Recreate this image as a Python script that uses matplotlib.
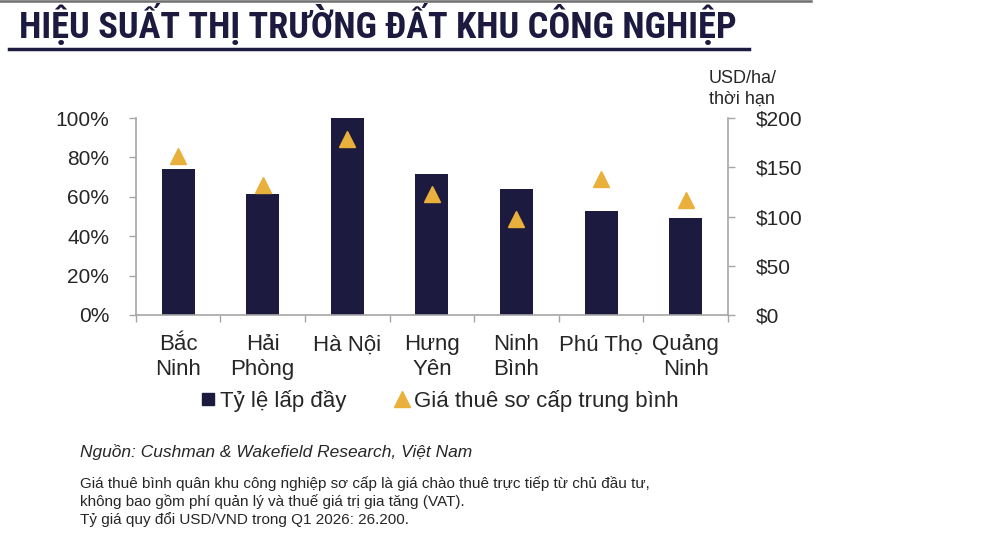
import matplotlib
matplotlib.use("Agg")
import matplotlib.pyplot as plt
from matplotlib.lines import Line2D
from matplotlib import font_manager as fm
import numpy as np

categories = ["Bắc\nNinh", "Hải\nPhòng", "Hà Nội", "Hưng\nYên", "Ninh\nBình", "Phú Thọ", "Quảng\nNinh"]
occupancy = [74.2, 61.2, 100.0, 71.5, 63.9, 52.9, 49.2]        # %
rent = [161, 132, 179, 123, 97, 138, 117]                       # USD/ha/term
left_ticks = [0, 20, 40, 60, 80, 100]
left_ticklabels = ["0%", "20%", "40%", "60%", "80%", "100%"]
right_ticks = [0, 50, 100, 150, 200]
right_ticklabels = ["$0", "$50", "$100", "$150", "$200"]

title = "HIỆU SUẤT THỊ TRƯỜNG ĐẤT KHU CÔNG NGHIỆP"
legend_labels = ["Tỷ lệ lấp đầy", "Giá thuê sơ cấp trung bình"]
unit_label = "USD/ha/\nthời hạn"
source = "Nguồn: Cushman & Wakefield Research, Việt Nam"
notes = ["Giá thuê bình quân khu công nghiệp sơ cấp là giá chào thuê trực tiếp từ chủ đầu tư,",
         "không bao gồm phí quản lý và thuế giá trị gia tăng (VAT).",
         "Tỷ giá quy đổi USD/VND trong Q1 2026: 26.200."]

NAVY = "#1d1a3f"
GOLD = "#eab03c"
GRAY = "#a6a6a6"
TXT = "#262626"

plt.rcParams['font.family'] = ['Liberation Sans', 'DejaVu Sans']

W, H = 985, 538
fig = plt.figure(figsize=(W / 100, H / 100), dpi=100)

def fx(px):
    return px / W

def fy(py):
    return 1 - py / H

ax = fig.add_axes([fx(135.7), fy(315), fx(728) - fx(135.7), fy(118) - fy(315)])
ax2 = ax.twinx()

x = np.arange(len(categories))
ax.bar(x, occupancy, width=0.39, color=NAVY, zorder=2)
ax2.plot(x, rent, linestyle="none", marker="^", markersize=11.5, color=GOLD, zorder=3)

ax.set_xlim(-0.5, len(categories) - 0.5)
ax.set_ylim(0, 100)
ax2.set_ylim(0, 200)

ax.set_yticks(left_ticks)
ax.set_yticklabels(left_ticklabels)
ax2.set_yticks(right_ticks)
ax2.set_yticklabels(right_ticklabels)

ax.set_xticks(x)
ax.set_xticklabels(categories, linespacing=1.22)
ax.set_xticks(np.arange(-0.5, len(categories), 1.0), minor=True)
ax.tick_params(axis='x', which='major', length=0, pad=14, labelsize=16, labelcolor=TXT)
ax.tick_params(axis='x', which='minor', length=5, width=1, color=GRAY, direction='out')
ax.tick_params(axis='y', length=5, width=1, color=GRAY, pad=14, labelsize=15, labelcolor=TXT)
ax2.tick_params(axis='y', length=5, width=1, color=GRAY, pad=15, labelsize=15, labelcolor=TXT)

for a in (ax, ax2):
    a.spines['top'].set_visible(False)
    for s in ('left', 'right', 'bottom'):
        a.spines[s].set_color(GRAY)
        a.spines[s].set_linewidth(1.2)
ax.spines['right'].set_visible(False)
ax2.spines['left'].set_visible(False)
ax2.spines['bottom'].set_visible(False)

# unit label
fig.text(fx(709), fy(89), unit_label, fontsize=13, color=TXT, ha='left', va='center', linespacing=1.3)

# legend
handles = [Line2D([], [], linestyle='none', marker='s', markersize=9, color=NAVY),
           Line2D([], [], linestyle='none', marker='^', markersize=11, color=GOLD)]
fig.legend(handles, legend_labels, loc='center', bbox_to_anchor=(fx(438), fy(401)), ncol=2,
           frameon=False, fontsize=16, handletextpad=0.05, columnspacing=2.0, handlelength=1.0,
           labelcolor=TXT)

# title: condensed bold face
fp_title = fm.FontProperties(family=['Roboto Condensed', 'DejaVu Sans'], weight='bold',
                             stretch='condensed', size=26.2)
fig.text(fx(19), fy(38), title, fontproperties=fp_title, color=NAVY, ha='left', va='baseline')
fig.add_artist(Line2D([fx(9), fx(749)], [fy(49), fy(49)], color=NAVY, linewidth=2.5))
fig.add_artist(Line2D([0, fx(811)], [fy(1), fy(1)], color="#6f6f6f", linewidth=1.8))

# source and notes
fig.text(fx(80), fy(452), source, fontsize=12.5, style='italic', color=TXT, ha='left', va='center')
for i, line in enumerate(notes):
    fig.text(fx(80), fy(484 + 18 * i), line, fontsize=11, color=TXT, ha='left', va='center')

fig.savefig("out.png", dpi=100)
